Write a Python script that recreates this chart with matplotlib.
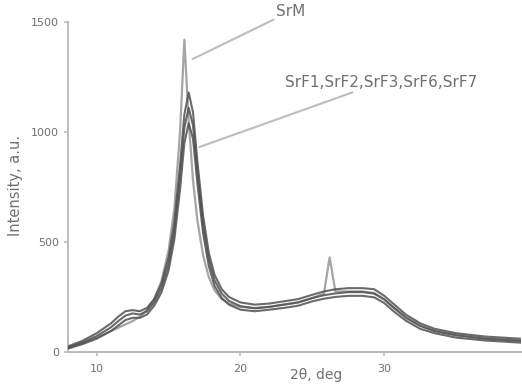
import numpy as np
import matplotlib.pyplot as plt

# -----------------------------
# Data
# -----------------------------
two_theta = [8.0, 9.0, 10.0, 11.0, 11.5, 12.0, 12.5, 13.0, 13.5, 14.0, 14.5, 15.0,
             15.4, 15.8, 16.1, 16.4, 16.7, 17.0, 17.4, 17.8, 18.2, 18.7, 19.2, 20.0,
             21.0, 22.0, 23.0, 24.0, 25.0, 25.8, 26.2, 26.6, 27.5, 28.5, 29.3, 30.0,
             30.7, 31.5, 32.5, 33.5, 35.0, 37.0, 39.5]

srf_upper = [25, 50, 85, 130, 160, 185, 190, 185, 200, 240, 310, 430,
             590, 850, 1080, 1180, 1090, 870, 620, 450, 350, 285, 250, 225,
             215, 220, 230, 240, 260, 275, 280, 285, 290, 290, 285, 255,
             215, 170, 130, 105, 85, 70, 60]

srf_mid = [20, 42, 72, 112, 140, 165, 175, 170, 185, 225, 290, 400,
           550, 800, 1020, 1110, 1030, 820, 580, 420, 325, 265, 232, 208,
           198, 205, 215, 225, 245, 258, 262, 266, 272, 272, 265, 238,
           198, 155, 118, 95, 75, 60, 50]

srf_lower = [15, 35, 60, 95, 120, 145, 155, 155, 170, 210, 270, 370,
             510, 740, 950, 1040, 970, 770, 540, 390, 300, 245, 215, 192,
             185, 192, 200, 210, 230, 242, 246, 250, 255, 255, 248, 222,
             182, 142, 105, 85, 65, 52, 42]

srm = [20, 40, 65, 95, 110, 125, 140, 160, 190, 240, 320, 460,
       650, 1000, 1420, 1050, 780, 600, 440, 340, 280, 240, 220, 205,
       200, 205, 215, 225, 245, 265, 430, 275, 275, 275, 268, 240,
       200, 160, 120, 95, 78, 62, 52]

y_ticks = [0, 500, 1000, 1500]
x_ticks = [10, 20, 30]

DARK = "#505050"
LIGHT = "#a5a5a5"
AXIS = "#bdbdbd"
TEXT = "#707070"

fig = plt.figure(figsize=(5.22, 3.88), dpi=100)
ax = fig.add_axes([0.130, 0.093, 0.868, 0.850])

ax.plot(two_theta, srm, color=LIGHT, lw=1.6, zorder=2)
for ys in (srf_lower, srf_mid, srf_upper):
    ax.plot(two_theta, ys, color=DARK, lw=1.5, alpha=0.85, zorder=3)

ax.set_xlim(8, 39.5)
ax.set_ylim(0, 1500)
ax.set_xticks(x_ticks)
ax.set_yticks(y_ticks)

for side in ("top", "right"):
    ax.spines[side].set_visible(False)
for side in ("left", "bottom"):
    ax.spines[side].set_color(AXIS)
    ax.spines[side].set_linewidth(1.5)

ax.tick_params(colors=AXIS, labelcolor=TEXT, labelsize=8, length=3, width=1.2)
ax.tick_params(axis="x", pad=6)
ax.set_xlabel("2θ, deg", fontsize=10, color=TEXT)
ax.set_ylabel("Intensity, a.u.", fontsize=10.5, color=TEXT)
ax.xaxis.set_label_coords(0.5 + (317 - 295) / 453, -0.05)
ax.yaxis.set_label_coords(-0.10, 0.506)

# callouts
ax.annotate("SrM", xy=(16.67, 1332), xytext=(22.5, 1550),
            fontsize=11, color=TEXT, va="center", ha="left",
            annotation_clip=False,
            arrowprops=dict(arrowstyle="-", color=AXIS, lw=1.5, shrinkA=0, shrinkB=0))
ax.annotate("SrF1,SrF2,SrF3,SrF6,SrF7", xy=(17.15, 932), xytext=(23.1, 1227),
            fontsize=11, color=TEXT, va="center", ha="left",
            arrowprops=dict(arrowstyle="-", color=AXIS, lw=1.5, shrinkA=0, shrinkB=0))

fig.savefig("out.png", dpi=100)
